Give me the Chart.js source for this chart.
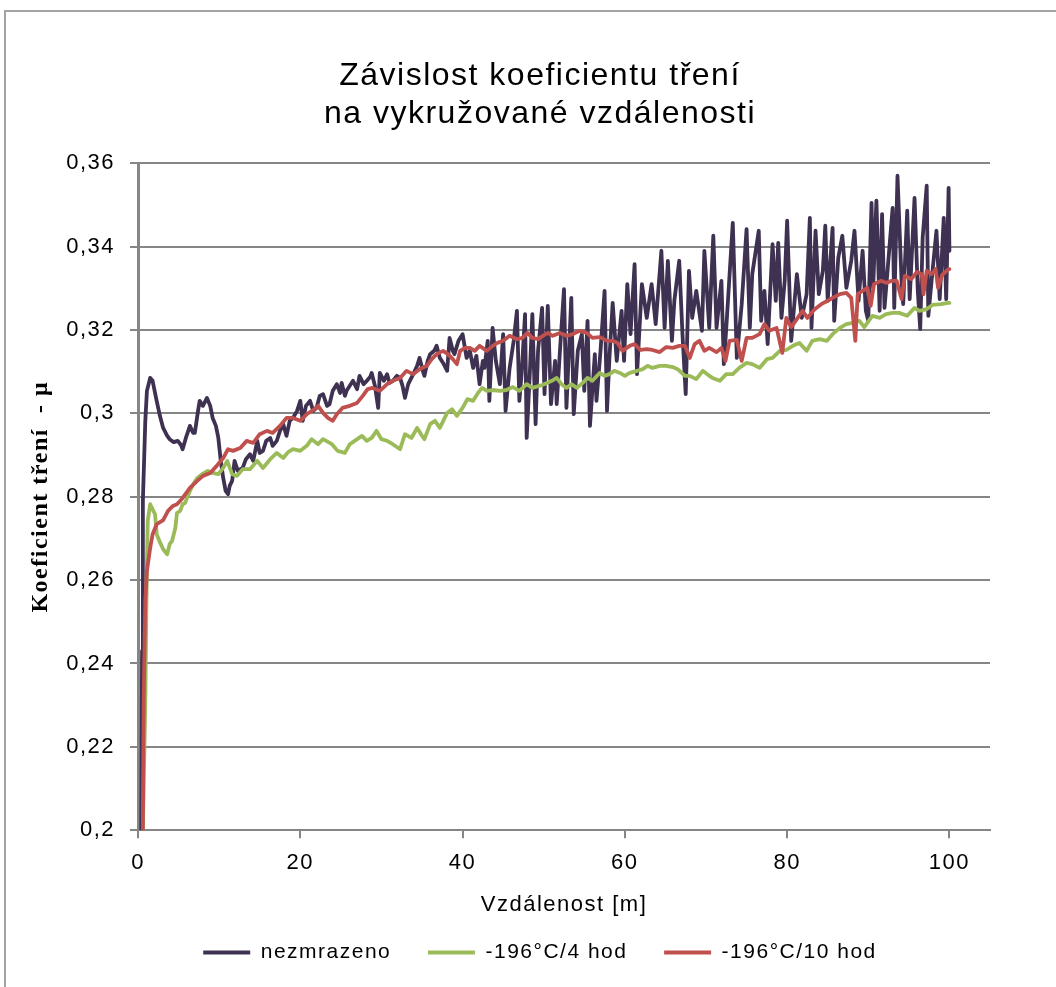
<!DOCTYPE html>
<html>
<head>
<meta charset="utf-8">
<title>Závislost koeficientu tření</title>
<script src="https://cdn.jsdelivr.net/npm/chart.js@4.4.1/dist/chart.umd.min.js"></script>
<style>
  html, body { margin: 0; padding: 0; background: #fff; overflow: hidden; width: 1056px; height: 987px; }
  #frame { position: absolute; left: 4px; top: 10px; width: 1100px; height: 1050px; border: 2px solid #a3a3a3; box-sizing: border-box; z-index: 0; }
  #chart { position: absolute; left: 0; top: 0; z-index: 1; }
</style>
</head>
<body>
<div id="frame"></div>
<canvas id="chart" width="1056" height="987"></canvas>
<script>
// axis ticks
const xTickValues = [0, 20, 40, 60, 80, 100];
const xTickLabels = ['0', '20', '40', '60', '80', '100'];
const yTickValues = [0.2, 0.22, 0.24, 0.26, 0.28, 0.3, 0.32, 0.34, 0.36];
const yTickLabels = ['0,2', '0,22', '0,24', '0,26', '0,28', '0,3', '0,32', '0,34', '0,36'];

const seriesNames = ['nezmrazeno', '-196°C/4 hod', '-196°C/10 hod'];

// nezmrazeno - distance [m] and friction coefficient
const distNezmrazeno = [
  0.4, 0.5, 0.6, 0.9, 1.1, 1.5, 1.8, 2.3, 2.7, 3.1,
  3.6, 3.9, 4.4, 4.9, 5.3, 5.5, 5.9, 6.4, 6.8, 7.0,
  7.4, 7.6, 8.0, 8.5, 8.9, 9.2, 9.6, 9.9, 10.2, 10.5,
  10.8, 11.1, 11.3, 11.6, 11.9, 12.3, 12.6, 12.9, 13.3, 13.8,
  14.2, 14.7, 15.0, 15.4, 15.8, 16.3, 16.6, 17.1, 17.5, 17.9,
  18.3, 18.7, 19.1, 19.6, 20.0, 20.3, 20.7, 21.2, 21.6, 22.0,
  22.4, 22.8, 23.3, 23.6, 24.0, 24.5, 24.9, 25.1, 25.5, 25.7,
  26.1, 26.5, 27.0, 27.3, 27.8, 28.2, 28.6, 28.8, 29.2, 29.6,
  29.8, 30.3, 30.7, 31.0, 31.4, 31.9, 32.3, 32.6, 32.9, 33.3,
  33.5, 34.0, 34.4, 34.7, 35.1, 35.3, 35.7, 36.0, 36.5, 36.8,
  37.2, 37.6, 38.1, 38.4, 38.8, 39.0, 39.5, 40.0, 40.5, 40.9,
  41.3, 41.7, 42.1, 42.5, 42.7, 43.1, 43.3, 43.7, 44.1, 44.6,
  45.0, 45.3, 45.8, 46.3, 46.7, 47.0, 47.3, 47.7, 47.9, 48.3,
  48.6, 49.0, 49.3, 49.8, 50.1, 50.5, 50.9, 51.4, 51.6, 52.0,
  52.5, 52.8, 53.4, 53.7, 54.2, 54.7, 55.0, 55.4, 55.7, 56.3,
  56.5, 57.0, 57.5, 57.8, 58.1, 58.5, 59.0, 59.6, 59.9, 60.3,
  60.7, 61.2, 61.5, 62.1, 62.7, 63.3, 63.8, 64.5, 64.9, 65.3,
  65.8, 66.1, 66.7, 67.1, 67.5, 67.9, 68.3, 68.8, 69.5, 69.8,
  70.4, 70.9, 71.3, 71.9, 72.2, 72.5, 73.3, 73.8, 74.4, 75.0,
  75.4, 75.7, 76.5, 76.8, 77.2, 77.6, 78.2, 78.6, 78.9, 79.3,
  79.7, 80.0, 80.5, 81.2, 81.8, 82.4, 82.8, 83.0, 83.5, 83.9,
  84.4, 84.7, 85.0, 85.6, 85.8, 86.3, 86.8, 87.3, 87.9, 88.3,
  88.8, 89.3, 89.7, 90.0, 90.4, 90.6, 91.0, 91.4, 91.7, 92.0,
  92.4, 93.0, 93.2, 93.6, 94.1, 94.3, 94.8, 95.1, 95.7, 96.1,
  96.4, 96.7, 97.2, 97.4, 97.8, 98.4, 98.8, 99.3, 99.6, 99.9,
  100
];
const muNezmrazeno = [
  0.2, 0.243, 0.279, 0.2982, 0.3054, 0.3085, 0.3078, 0.303, 0.2994, 0.2965,
  0.2946, 0.2938, 0.2931, 0.2934, 0.2924, 0.2914, 0.2941, 0.297, 0.2953, 0.2953,
  0.3006, 0.303, 0.3018, 0.3037, 0.3018, 0.2989, 0.297, 0.2941, 0.2886, 0.2845,
  0.2814, 0.2806, 0.2826, 0.2838, 0.2886, 0.2862, 0.2866, 0.2869, 0.289, 0.2902,
  0.2886, 0.2934, 0.2905, 0.291, 0.2934, 0.2941, 0.2922, 0.2934, 0.2958, 0.2974,
  0.2946, 0.2982, 0.2989, 0.3006, 0.303, 0.2982, 0.3018, 0.303, 0.3006, 0.3013,
  0.3042, 0.3046, 0.3018, 0.3022, 0.3054, 0.307, 0.3049, 0.3073, 0.3042, 0.3054,
  0.3066, 0.3078, 0.3058, 0.309, 0.307, 0.3078, 0.3087, 0.3097, 0.3066, 0.3013,
  0.3097, 0.3078, 0.3094, 0.3073, 0.3078, 0.309, 0.3085, 0.3066, 0.3037, 0.307,
  0.3078, 0.3097, 0.3114, 0.3133, 0.3102, 0.309, 0.3126, 0.3142, 0.315, 0.3162,
  0.3133, 0.3121, 0.3102, 0.3181, 0.315, 0.3142, 0.3174, 0.319, 0.3133, 0.315,
  0.3109, 0.3138, 0.307, 0.3126, 0.3109, 0.3174, 0.303, 0.3205, 0.3126, 0.307,
  0.319, 0.3006, 0.3109, 0.3174, 0.3246, 0.303, 0.3102, 0.3238, 0.2941, 0.3102,
  0.3238, 0.2974, 0.315, 0.3253, 0.3046, 0.3258, 0.3022, 0.3126, 0.3022, 0.315,
  0.3298, 0.3013, 0.3277, 0.2998, 0.315, 0.319, 0.3054, 0.3222, 0.297, 0.3142,
  0.303, 0.315, 0.3294, 0.3006, 0.3133, 0.3265, 0.3126, 0.3246, 0.3126, 0.331,
  0.319, 0.3358, 0.3094, 0.331, 0.3229, 0.331, 0.3214, 0.339, 0.3205, 0.3366,
  0.3174, 0.327, 0.3366, 0.319, 0.3046, 0.3342, 0.3229, 0.3294, 0.3198, 0.339,
  0.3205, 0.3426, 0.3205, 0.3318, 0.3118, 0.3205, 0.3457, 0.3133, 0.3262, 0.3442,
  0.3205, 0.3334, 0.3438, 0.3222, 0.3294, 0.3166, 0.3406, 0.327, 0.3409, 0.3229,
  0.3318, 0.3462, 0.3174, 0.3334, 0.3229, 0.3286, 0.3469, 0.3205, 0.3438, 0.3286,
  0.3342, 0.345, 0.327, 0.3445, 0.3222, 0.3373, 0.3426, 0.3301, 0.3366, 0.3438,
  0.327, 0.339, 0.3246, 0.3222, 0.3505, 0.3301, 0.351, 0.3246, 0.3478, 0.3253,
  0.3349, 0.3493, 0.3253, 0.357, 0.3318, 0.3262, 0.3486, 0.3274, 0.3517, 0.3294,
  0.3202, 0.3421, 0.3546, 0.3234, 0.3318, 0.3438, 0.3274, 0.3469, 0.3274, 0.3541,
  0.339
];

// -196°C/4 hod
const dist4h = [
  0.6, 0.9, 1.1, 1.2, 1.5, 1.8, 2.1, 2.3, 2.7, 3.1,
  3.6, 3.9, 4.2, 4.6, 4.8, 5.2, 5.5, 5.8, 6.4, 6.9,
  7.3, 7.9, 8.6, 9.2, 9.9, 10.5, 11.0, 11.6, 12.2, 12.9,
  13.8, 14.7, 15.4, 16.3, 17.1, 17.9, 18.5, 19.1, 20.0, 20.8,
  21.4, 22.2, 22.8, 23.9, 24.6, 25.5, 26.1, 26.7, 27.6, 28.2,
  28.8, 29.4, 30.0, 30.7, 31.4, 32.3, 32.9, 33.7, 34.4, 35.0,
  35.3, 36.0, 36.6, 37.2, 38.1, 38.7, 39.3, 40.0, 40.6, 41.3,
  41.9, 42.4, 43.0, 43.7, 44.6, 45.4, 46.2, 47.0, 47.9, 48.6,
  49.8, 50.4, 51.0, 51.6, 52.2, 52.8, 53.4, 54.1, 54.8, 55.4,
  56.0, 56.9, 57.5, 58.1, 58.7, 59.4, 60.0, 60.6, 61.5, 62.2,
  62.8, 63.4, 64.3, 65.1, 65.9, 66.5, 67.4, 68.0, 68.8, 69.6,
  70.4, 70.8, 71.7, 72.5, 73.3, 74.1, 75.0, 75.7, 76.6, 77.5,
  78.2, 79.1, 79.9, 80.7, 81.5, 82.4, 83.1, 84.0, 84.9, 85.6,
  86.5, 87.3, 88.1, 88.9, 89.5, 90.5, 91.4, 92.2, 93.0, 93.8,
  94.8, 95.7, 96.3, 97.2, 97.9, 99.0, 99.8, 100
];
const mu4h = [
  0.2, 0.231, 0.2646, 0.2742, 0.2782, 0.277, 0.2758, 0.271, 0.2691, 0.2674,
  0.2662, 0.2686, 0.2694, 0.2725, 0.2761, 0.2766, 0.2782, 0.2785, 0.2814, 0.2833,
  0.2845, 0.2854, 0.2862, 0.2857, 0.2854, 0.2869, 0.2886, 0.2854, 0.285, 0.2866,
  0.2866, 0.2886, 0.2869, 0.289, 0.2905, 0.2893, 0.2907, 0.2914, 0.291, 0.2922,
  0.2938, 0.2926, 0.2938, 0.2926, 0.291, 0.2905, 0.2926, 0.2934, 0.2946, 0.2934,
  0.2941, 0.2958, 0.2938, 0.2934, 0.2926, 0.2914, 0.295, 0.2941, 0.2965, 0.2946,
  0.2938, 0.2974, 0.2982, 0.2965, 0.3001, 0.301, 0.2994, 0.3013, 0.3034, 0.303,
  0.3049, 0.3061, 0.3054, 0.3056, 0.3054, 0.3056, 0.3063, 0.3054, 0.307, 0.3061,
  0.3068, 0.3073, 0.3078, 0.3085, 0.307, 0.3061, 0.307, 0.3061, 0.3073, 0.3085,
  0.3078, 0.3097, 0.309, 0.3094, 0.3102, 0.3097, 0.309, 0.3097, 0.3102, 0.3106,
  0.3114, 0.3109, 0.3114, 0.3114, 0.3111, 0.3106, 0.309, 0.309, 0.3082, 0.3102,
  0.309, 0.3085, 0.3078, 0.3094, 0.3094, 0.3109, 0.3121, 0.3118, 0.3109, 0.313,
  0.3133, 0.315, 0.3152, 0.3162, 0.3169, 0.315, 0.3174, 0.3178, 0.3174, 0.319,
  0.3205, 0.3214, 0.3217, 0.3222, 0.3207, 0.3234, 0.3229, 0.3238, 0.3241, 0.3241,
  0.3234, 0.3253, 0.3246, 0.325, 0.326, 0.3262, 0.3265, 0.3265
];

// -196°C/10 hod
const dist10h = [
  0.6, 0.7, 0.9, 1.1, 1.5, 1.8, 2.3, 3.1, 3.7, 4.3,
  4.8, 5.2, 5.5, 6.4, 7.3, 8.0, 8.9, 9.7, 10.5, 11.1,
  11.7, 12.6, 13.4, 14.2, 15.0, 15.9, 16.6, 17.5, 18.3, 19.1,
  20.0, 20.8, 21.6, 22.2, 22.8, 23.4, 24.0, 24.5, 25.2, 26.1,
  27.0, 27.7, 28.3, 28.9, 29.8, 30.7, 31.4, 32.3, 33.1, 33.9,
  34.7, 35.6, 36.2, 36.8, 37.6, 38.2, 38.8, 39.3, 39.7, 40.3,
  40.9, 41.5, 42.1, 43.0, 43.7, 44.3, 45.0, 45.8, 46.7, 47.4,
  48.0, 48.6, 49.3, 49.9, 50.5, 51.1, 52.0, 52.8, 53.6, 54.4,
  55.3, 56.0, 56.9, 57.8, 58.5, 59.1, 59.7, 60.6, 61.2, 61.9,
  62.7, 63.4, 64.3, 65.1, 65.9, 66.7, 67.4, 68.0, 68.6, 69.2,
  69.8, 70.4, 71.3, 71.9, 72.4, 72.9, 73.8, 74.4, 75.0, 75.7,
  76.6, 77.2, 77.8, 78.7, 79.4, 79.9, 80.5, 81.3, 81.9, 82.5,
  83.4, 84.2, 85.0, 85.6, 86.5, 87.3, 87.9, 88.4, 88.7, 89.3,
  89.9, 90.3, 90.7, 91.6, 92.2, 92.9, 93.5, 94.1, 94.5, 95.3,
  96.0, 96.6, 96.8, 97.2, 97.8, 98.3, 98.6, 99.1, 99.9, 100
];
const mu10h = [
  0.2, 0.231, 0.255, 0.2622, 0.2677, 0.271, 0.2734, 0.2744, 0.2766, 0.2778,
  0.2782, 0.279, 0.2797, 0.2821, 0.2838, 0.285, 0.2857, 0.2874, 0.2893, 0.2914,
  0.291, 0.2917, 0.2934, 0.2929, 0.295, 0.2958, 0.2953, 0.297, 0.2989, 0.2989,
  0.2982, 0.2998, 0.3008, 0.3018, 0.3001, 0.2989, 0.2982, 0.2998, 0.3013, 0.3018,
  0.3025, 0.3042, 0.3058, 0.3061, 0.3054, 0.307, 0.3078, 0.3085, 0.3102, 0.3094,
  0.3106, 0.3114, 0.313, 0.3142, 0.315, 0.3142, 0.313, 0.3118, 0.315, 0.3157,
  0.3157, 0.315, 0.3162, 0.315, 0.3162, 0.3169, 0.3174, 0.3186, 0.3178, 0.3181,
  0.3193, 0.3181, 0.3178, 0.3186, 0.3193, 0.3186, 0.3193, 0.3186, 0.319, 0.3198,
  0.3193, 0.3181, 0.3183, 0.3174, 0.3174, 0.3169, 0.315, 0.3162, 0.3166, 0.3152,
  0.3154, 0.3152, 0.3147, 0.3159, 0.3157, 0.3162, 0.3162, 0.3133, 0.3166, 0.3174,
  0.315, 0.3157, 0.3147, 0.3157, 0.3126, 0.3174, 0.3176, 0.3126, 0.3181, 0.3181,
  0.319, 0.3214, 0.3198, 0.3205, 0.3145, 0.3229, 0.3207, 0.3229, 0.3246, 0.3229,
  0.325, 0.3262, 0.327, 0.3277, 0.3286, 0.3289, 0.3277, 0.3174, 0.3286, 0.3294,
  0.3301, 0.3258, 0.331, 0.3318, 0.3313, 0.3318, 0.3318, 0.3274, 0.333, 0.3322,
  0.3339, 0.3334, 0.3286, 0.3342, 0.3334, 0.3346, 0.3301, 0.3332, 0.3346, 0.3346
];

const lineColors = ['#3f3151', '#9bbb59', '#c0504d'];
const lineWidth = 3.8;

function points(xs, ys) {
  return xs.map((x, i) => ({ x: x, y: ys[i] }));
}

// the original text is slightly letter-spaced
const letterSpacing = {
  id: 'letterSpacing',
  beforeUpdate(chart) { chart.ctx.letterSpacing = '1.5px'; },
  beforeDraw(chart) { chart.ctx.letterSpacing = '1.5px'; }
};

Chart.defaults.font.family = "'Liberation Sans', Arial, sans-serif";
Chart.defaults.color = '#000';

const gridGray = '#868686';

new Chart(document.getElementById('chart'), {
  type: 'line',
  data: {
    datasets: [
      { label: seriesNames[0], data: points(distNezmrazeno, muNezmrazeno), borderColor: lineColors[0], backgroundColor: lineColors[0], borderWidth: lineWidth, order: 3 },
      { label: seriesNames[1], data: points(dist4h, mu4h), borderColor: lineColors[1], backgroundColor: lineColors[1], borderWidth: lineWidth, order: 2 },
      { label: seriesNames[2], data: points(dist10h, mu10h), borderColor: lineColors[2], backgroundColor: lineColors[2], borderWidth: lineWidth, order: 1 },
    ],
  },
  options: {
    responsive: false,
    animation: false,
    elements: {
      line: { tension: 0, borderJoinStyle: 'round', borderCapStyle: 'round' },
      point: { radius: 0, hoverRadius: 0 },
    },
    layout: { padding: { left: 24, right: 0, top: 0, bottom: 14 } },
    plugins: {
      tooltip: { enabled: false },
      title: {
        display: true,
        text: ['Závislost koeficientu tření', 'na vykružované vzdálenosti'],
        font: { size: 32, weight: 'normal', lineHeight: 1.16 },
        color: '#000',
        padding: { top: 58, bottom: 31 },
      },
      legend: {
        position: 'bottom',
        labels: {
          usePointStyle: true,
          pointStyle: 'line',
          pointStyleWidth: 47,
          padding: 22,
          font: { size: 21 },
          color: '#000',
          sort: (a, b) => a.datasetIndex - b.datasetIndex,
          generateLabels(chart) {
            const items = Chart.defaults.plugins.legend.labels.generateLabels(chart);
            items.forEach(item => {
              item.lineWidth = lineWidth;
              if (item.datasetIndex < 2) item.text = item.text + '  ';
            });
            return items;
          },
        },
      },
    },
    scales: {
      x: {
        type: 'linear',
        min: 0,
        max: 105,
        afterBuildTicks(axis) { axis.ticks = xTickValues.map(v => ({ value: v })); },
        ticks: {
          callback: (value, index) => xTickLabels[index],
          font: { size: 22 },
          color: '#000',
          padding: 12,
          maxRotation: 0,
          autoSkip: false,
        },
        grid: { drawOnChartArea: false, drawTicks: true, tickLength: 8, color: gridGray, lineWidth: 2 },
        border: { color: gridGray, width: 2 },
        title: {
          display: true,
          text: 'Vzdálenost [m]',
          font: { size: 22 },
          color: '#000',
          padding: { top: 3, bottom: 2 },
        },
      },
      y: {
        type: 'linear',
        min: 0.2,
        max: 0.36,
        afterBuildTicks(axis) { axis.ticks = yTickValues.map(v => ({ value: v })); },
        afterFit(axis) { axis.width = 114; },
        ticks: {
          callback: (value, index) => yTickLabels[index],
          font: { size: 22 },
          color: '#000',
          padding: 15,
        },
        grid: { color: gridGray, lineWidth: 2, tickLength: 8, drawTicks: true },
        border: { color: gridGray, width: 3 },
        title: {
          display: true,
          text: 'Koeficient tření  - μ',
          font: { family: "'Liberation Serif', 'Times New Roman', serif", size: 24, weight: 'bold' },
          color: '#000',
          padding: { top: 2, bottom: 0 },
        },
      },
      // empty right-hand axis keeps the plot area narrower than the page, as in the original
      y2: {
        type: 'linear',
        position: 'right',
        display: true,
        afterFit(axis) { axis.width = 66; },
        ticks: { display: false },
        grid: { display: false },
        border: { display: false },
      },
    },
  },
  plugins: [letterSpacing],
});
</script>
</body>
</html>
